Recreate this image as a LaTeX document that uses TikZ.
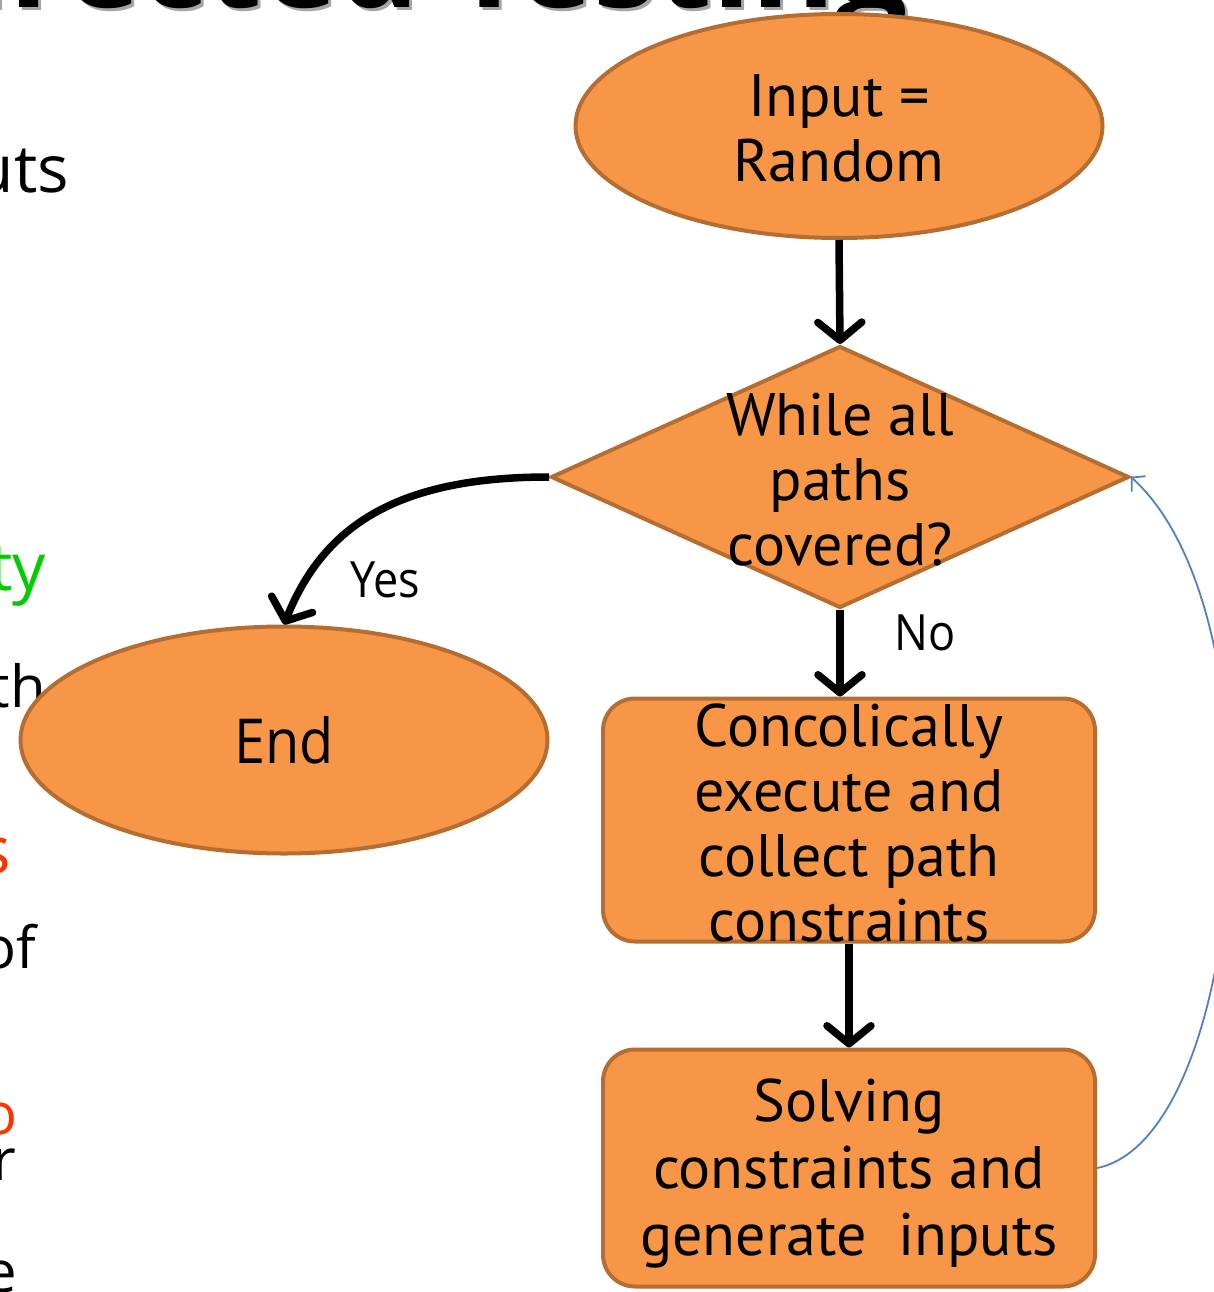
\documentclass[tikz,border=0pt]{standalone}
\usepackage{fontspec}
\usetikzlibrary{shapes.geometric,arrows.meta}
\newfontfamily\boxfont{PT Sans}
\newfontfamily\slidefont[FakeStretch=0.9]{Open Sans}
\newfontfamily\bodyfont{Open Sans}
\definecolor{fillorange}{HTML}{F79646}
\definecolor{edgebrown}{HTML}{B66D31}
\definecolor{loopblue}{HTML}{4F81BD}
\definecolor{hired}{HTML}{FF3300}
\definecolor{higreen}{HTML}{00CC00}
\definecolor{shadowgray}{HTML}{A6A6A6}

\begin{document}
\begin{tikzpicture}[x=1pt,y=-1pt,
  shapebox/.style={fill=fillorange, draw=edgebrown, line width=4pt, inner sep=0pt},
  oval/.style={shapebox, ellipse},
  decision/.style={shapebox, diamond},
  stepbox/.style={shapebox, rectangle, rounded corners=32pt, minimum width=492pt},
  boxtext/.style={font=\boxfont\fontsize{60}{65}\selectfont, align=center, inner sep=0pt},
  flow/.style={line width=7.5pt, -{Straight Barb[length=18pt,width=44pt,round]}},
  loopback/.style={draw=loopblue, line width=1.8pt, -{Straight Barb[length=9pt,width=20pt,round]}},
  lbl/.style={font=\slidefont\fontsize{50}{58}\selectfont, inner sep=0pt},
  margintext/.style={font=\bodyfont\fontsize{58}{64}\selectfont, inner sep=0pt, anchor=base east},
  marginbig/.style={margintext, font=\bodyfont\fontsize{66}{72}\selectfont},
  titletext/.style={font=\bodyfont\bfseries\fontsize{128}{132}\selectfont, inner sep=0pt, anchor=base east},
]
\path[use as bounding box] (0,0) rectangle (1214,1292);
\clip (0,0) rectangle (1214,1292);

% slide title and bullet text behind the chart
\node[titletext, text=shadowgray] (titleshadow) at (911,11) {Directed Testing};
\node[titletext] (title) at (908,8) {Directed Testing};
\node[marginbig] (m1) at (69,193) {uts};
\node[marginbig, text=higreen] (m2) at (46,590) {ty};
\node[margintext] (m3) at (46,707) {th};
\node[marginbig, text=hired] (m4) at (11,873) {s};
\node[margintext] (m5) at (36,968) {of};
\node[margintext, text=hired] (m6) at (18,1134) {o};
\node[margintext] (m7) at (16,1180) {r};
\node[margintext] (m8) at (17,1292) {e};

% flowchart shapes
\node[oval, minimum width=527pt, minimum height=224pt] (inp) at (839,126) {};
\node[boxtext] (inpT) at (839,128) {Input =\\Random};

\node[decision, minimum width=578pt, minimum height=262pt] (dec) at (840,477) {};
\node[boxtext] (decT) at (840,480) {While all\\paths\\covered?};

\node[oval, minimum width=527pt, minimum height=227pt] (end) at (284,740) {};
\node[font=\slidefont\fontsize{62}{70}\selectfont, inner sep=0pt] (endT) at (284,740) {End};

\node[stepbox, minimum height=243pt] (exec) at (849,820) {};
\node[boxtext] (execT) at (849,823) {Concolically\\execute and\\collect path\\constraints};

\node[stepbox, minimum height=237pt] (gen) at (849,1168) {};
\node[boxtext, font=\boxfont\fontsize{60}{67}\selectfont] (genT) at (849,1173) {Solving\\constraints and\\generate\ \ inputs};

% connectors
\draw[flow] (inp.south) -- (dec.north);
\draw[flow] (dec.south) -- (dec.south |- exec.north);
\draw[flow] (exec.south) -- (gen.north);
\draw[flow] (dec.west) .. controls +(-150,0) and +(40,-100) .. (end.north);
\draw[loopback] (gen.east) .. controls +(150,-30) and +(155,140) .. (dec.east);

% branch labels
\node[lbl] (yes) at (385,580) {Yes};
\node[lbl] (no) at (925,633) {No};
\end{tikzpicture}
\end{document}
